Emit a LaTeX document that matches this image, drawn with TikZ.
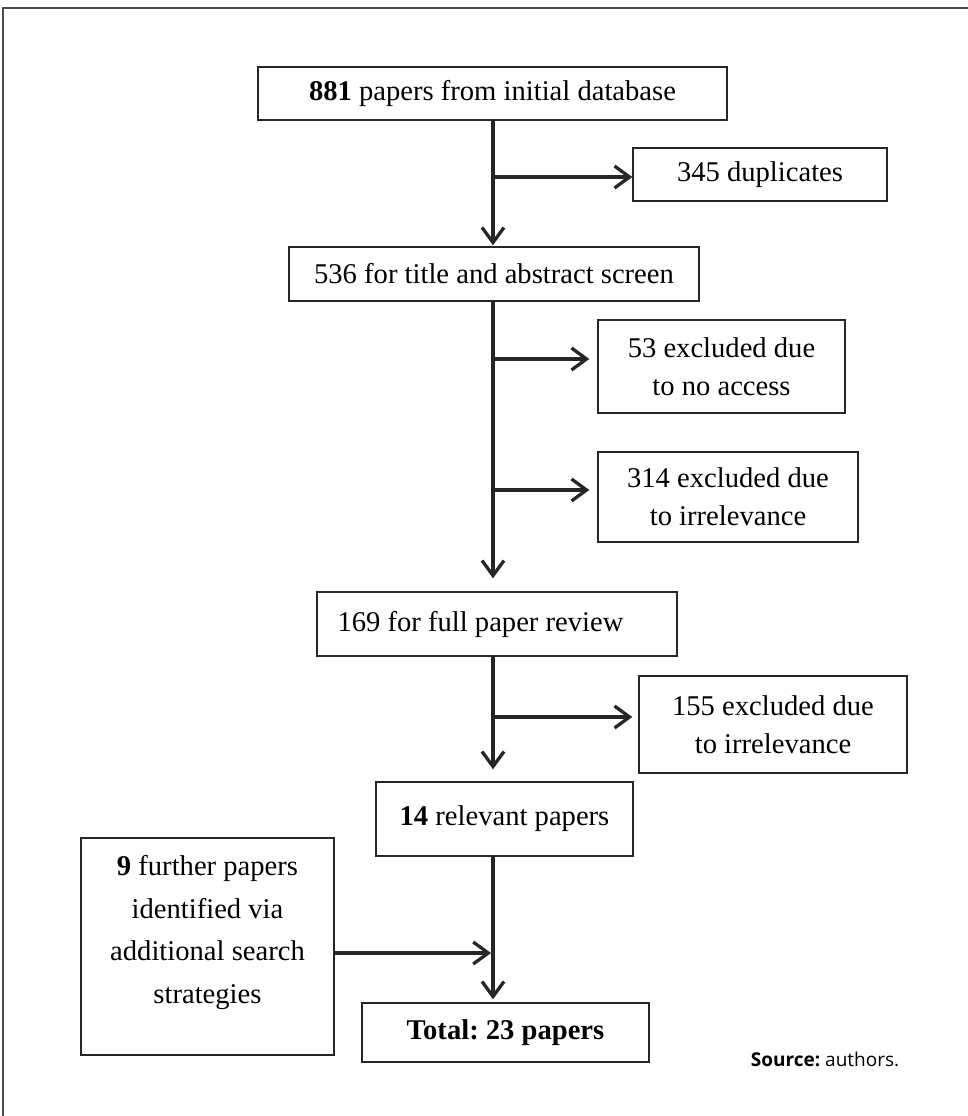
\documentclass[tikz,border=0pt]{standalone}
\usepackage{fontspec}
\setmainfont{Liberation Serif}
\newfontfamily\srcfont{Open Sans}
\usetikzlibrary{arrows.meta}
\frenchspacing

\tikzset{
  flowbox/.style={draw=black!85, line width=1.4pt, inner sep=0pt, align=center,
    font=\fontsize{28.6}{38}\selectfont},
  flowarrow/.style={line width=3.3pt, draw=black!85,
    -{Straight Barb[length=15pt,width=22pt,line width=3.3pt]}},
  flowline/.style={line width=3.3pt, draw=black!85}
}

\begin{document}
\begin{tikzpicture}[x=1pt,y=-1pt]
  \useasboundingbox (0,0) rectangle (968,1116);
  \draw[line width=1.5pt, black!70] (3,1116) -- (3,8) -- (968,8);

  \node[flowbox, minimum width=469pt, minimum height=53pt] (papers) at (492.5,93.5) {\textbf{881} papers from initial database};
  \node[flowbox, minimum width=254pt, minimum height=53pt] (dupl) at (760,174.5) {345 duplicates};
  \node[flowbox, minimum width=410pt, minimum height=54pt] (screen) at (494,274) {536 for title and abstract screen};
  \node[flowbox, minimum width=247pt, minimum height=93pt] (noaccess) at (721.5,366.5) {53 excluded due\\to no access};
  \node[flowbox, minimum width=260pt, minimum height=90pt] (irrel) at (728,497) {314 excluded due\\to irrelevance};
  \node[flowbox, minimum width=360pt, minimum height=64pt] (review) at (497,624) {169 for full paper review\hspace*{33pt}};
  \node[flowbox, minimum width=268pt, minimum height=97pt] (irrelfull) at (773,724.5) {155 excluded due\\to irrelevance};
  \node[flowbox, minimum width=257pt, minimum height=74pt] (relevant) at (504.5,819) {\textbf{14} relevant papers};
  \node[flowbox, minimum width=253pt, minimum height=217pt, font=\fontsize{28.6}{42.5}\selectfont, text depth=34pt] (further) at (207.5,946.5) {\textbf{9} further papers\\identified via\\additional search\\strategies};
  \node[flowbox, minimum width=287pt, minimum height=59pt] (total) at (505.5,1032.5) {\textbf{Total: 23 papers}};
  \node[font=\srcfont\fontsize{19}{23}\selectfont, anchor=base] (source) at (825,1066) {\textbf{Source:} authors.};

  \coordinate (j1) at (493,177);
  \coordinate (j2) at (493,359);
  \coordinate (j3) at (493,490);
  \coordinate (j4) at (493,717);
  \coordinate (j5) at (493,953);

  \draw[flowarrow, shorten >=1pt] (papers.south -| j1) -- (screen.north -| j1);
  \draw[flowarrow] (j1) -- (j1 -| dupl.west);

  \draw[flowarrow, shorten >=13pt] (screen.south -| j2) -- (review.north -| j2);
  \draw[flowarrow, shorten >=8pt] (j2) -- (j2 -| noaccess.west);
  \draw[flowarrow, shorten >=8pt] (j3) -- (j3 -| irrel.west);

  \draw[flowarrow, shorten >=12pt] (review.south -| j4) -- (relevant.north -| j4);
  \draw[flowarrow, shorten >=6pt] (j4) -- (j4 -| irrelfull.west);

  \draw[flowarrow, shorten >=3pt] (relevant.south -| j5) -- (total.north -| j5);
  \draw[flowarrow, shorten >=2pt] (further.east |- j5) -- (j5);
\end{tikzpicture}
\end{document}
